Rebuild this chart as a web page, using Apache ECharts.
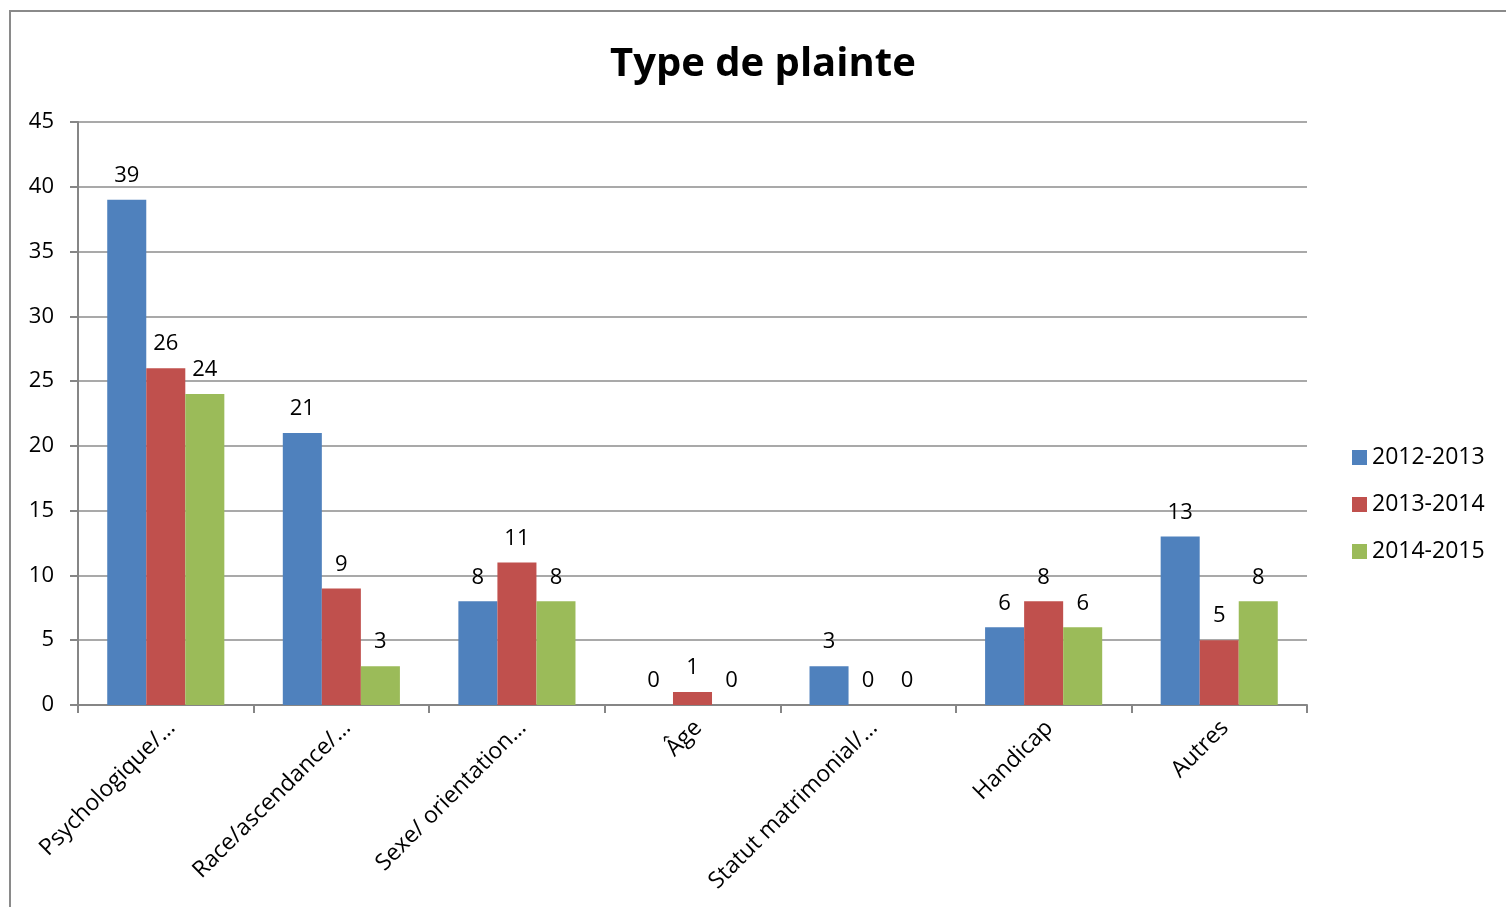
<!DOCTYPE html>
<html><head><meta charset="utf-8">
<script src="https://cdn.jsdelivr.net/npm/echarts@6/dist/echarts.min.js"></script>
<style>html,body{margin:0;padding:0;background:#fff}#c{width:1506px;height:907px}
#frame{position:absolute;left:9px;top:10px;width:1500px;height:900px;border:2px solid #8a8a8a;box-sizing:border-box;pointer-events:none}</style>
</head><body><div id="c"></div><div id="frame"></div>
<script>
const categories = ["Psychologique/…", "Race/ascendance/…", "Sexe/ orientation…", "Âge", "Statut matrimonial/…", "Handicap", "Autres"];
const seriesNames = ["2012-2013", "2013-2014", "2014-2015"];
const s2012 = [39, 21, 8, 0, 3, 6, 13];
const s2013 = [26, 9, 11, 1, 0, 8, 5];
const s2014 = [24, 3, 8, 0, 0, 6, 8];
const colors = ["#4F81BD", "#C0504D", "#9BBB59"];
const font = "'Open Sans', 'Noto Sans', sans-serif";
const chart = echarts.init(document.getElementById('c'));
const mk = (name, data, i) => ({
  name, type: 'bar', data, barGap: '0%', barCategoryGap: '33.3%',
  itemStyle: { color: colors[i] },
  label: { show: true, position: 'top', distance: 13, fontSize: 22, color: '#000', fontFamily: font }
});
chart.setOption({
  animation: false,
  textStyle: { fontFamily: font },
  title: { text: 'Type de plainte', left: 605, top: 40,
    textStyle: { fontSize: 40, fontWeight: 'bold', color: '#000', fontFamily: font } },
  legend: { orient: 'vertical', left: 1347, top: 441, itemWidth: 15, itemHeight: 15, itemGap: 24,
    icon: 'rect', textStyle: { fontSize: 23, color: '#000', fontFamily: font } },
  grid: { left: 78, right: 199, top: 122, bottom: 202, containLabel: false },
  xAxis: { type: 'category', data: categories,
    axisLine: { lineStyle: { color: '#868686', width: 2 } },
    axisTick: { show: true, length: 8, lineStyle: { color: '#868686', width: 2 } },
    axisLabel: { rotate: 45, fontSize: 23, color: '#000', margin: 25, interval: 0, fontFamily: font,
      padding: [0, -8, 0, 0] } },
  yAxis: { type: 'value', min: 0, max: 45, interval: 5,
    axisLine: { show: true, lineStyle: { color: '#868686', width: 2 } },
    axisTick: { show: true, length: 8, lineStyle: { color: '#868686', width: 2 } },
    axisLabel: { fontSize: 22, color: '#000', margin: 24, fontFamily: font },
    splitLine: { lineStyle: { color: '#8c8c8c', width: 1.5 } } },
  series: [mk(seriesNames[0], s2012, 0), mk(seriesNames[1], s2013, 1), mk(seriesNames[2], s2014, 2)]
});
</script></body></html>
